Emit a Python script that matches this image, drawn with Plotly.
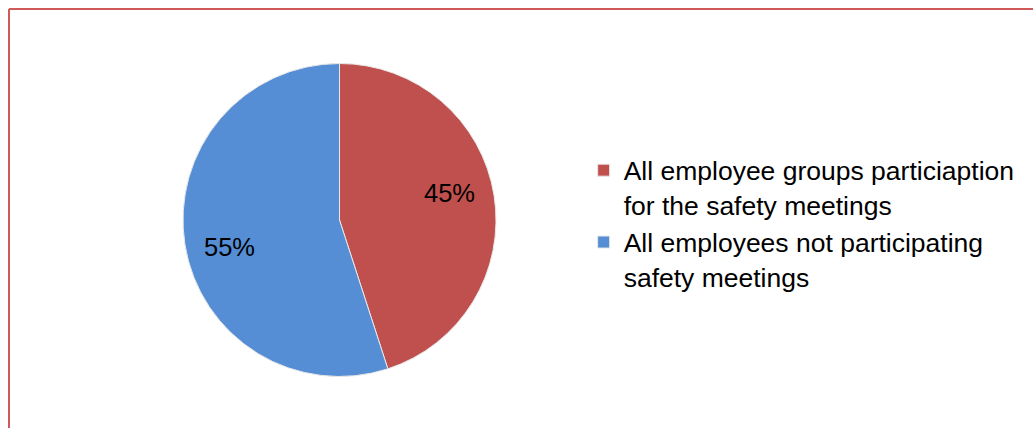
import math
import plotly.graph_objects as go

# Share of employees attending the safety meetings
labels = [
    "All employee groups particiaption<br>for the safety meetings",
    "All employees not participating<br>safety meetings",
]
values = [45, 55]
colors = ["#C0504D", "#558ED5"]

W, H = 1033, 428
FONT = "Arial, Liberation Sans, sans-serif"

# Pie placement in pixels (left, right, top, bottom)
PIE_L, PIE_R, PIE_T, PIE_B = 183, 496, 63, 377
dom_x = [PIE_L / W, PIE_R / W]
dom_y = [1 - PIE_B / H, 1 - PIE_T / H]

fig = go.Figure(
    go.Pie(
        labels=labels,
        values=values,
        sort=False,
        direction="clockwise",
        rotation=0,
        marker=dict(colors=colors, line=dict(color="#E8E8E8", width=1)),
        textinfo="none",
        domain=dict(x=dom_x, y=dom_y),
        hoverinfo="label+percent",
    )
)

# Percentage labels placed along each slice's bisector
total = sum(values)
radius_px = min(PIE_R - PIE_L, PIE_B - PIE_T) / 2
cx = (dom_x[0] + dom_x[1]) / 2
cy = (dom_y[0] + dom_y[1]) / 2
start = 0.0
for v in values:
    ang = math.radians(360 * (start + v / 2) / total - 5)
    rr = 0.725 * radius_px
    fig.add_annotation(
        x=cx + rr * math.sin(ang) / W,
        y=cy + rr * math.cos(ang) / H,
        xref="paper", yref="paper",
        text=f"{round(100 * v / total)}%",
        showarrow=False,
        xanchor="center", yanchor="middle",
        font=dict(family=FONT, size=25.5, color="#000000"),
    )
    start += v

# Frame lines along the left and top edges
frame = dict(type="line", xref="paper", yref="paper",
             line=dict(color="#D05A5A", width=2))
fig.add_shape(x0=9 / W, y0=0, x1=9 / W, y1=1 - 9 / H, **frame)
fig.add_shape(x0=9 / W, y0=1 - 9 / H, x1=1, y1=1 - 9 / H, **frame)

fig.update_layout(
    width=W,
    height=H,
    margin=dict(l=0, r=0, t=0, b=0),
    paper_bgcolor="white",
    plot_bgcolor="white",
    font=dict(family=FONT, color="#000000"),
    showlegend=True,
    legend=dict(
        x=0.565,
        y=0.478,
        xanchor="left",
        yanchor="middle",
        valign="top",
        font=dict(family=FONT, size=26.5, color="#000000"),
        bgcolor="rgba(0,0,0,0)",
    ),
)

fig.write_html("out.html")
